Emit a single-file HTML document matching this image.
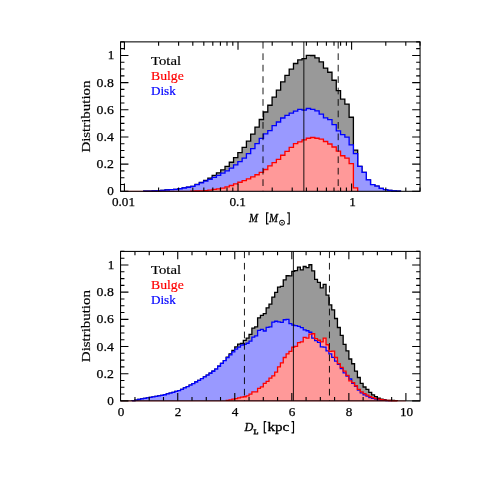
<!DOCTYPE html>
<html><head><meta charset="utf-8"><title>Distributions</title>
<style>html,body{margin:0;padding:0;background:#fff;}svg{display:block;will-change:transform;}text{font-family:"Liberation Serif",serif;}</style>
</head><body>
<svg width="491" height="491" viewBox="0 0 491 491">
<rect width="491" height="491" fill="#ffffff"/>
<path d="M143.68,191.30 L143.68,191.19 L147.96,191.19 L147.96,191.07 L152.24,191.07 L152.24,190.88 L156.52,190.88 L156.52,190.68 L160.80,190.68 L160.80,190.38 L165.08,190.38 L165.08,190.02 L169.36,190.02 L169.36,189.67 L173.64,189.67 L173.64,189.31 L177.92,189.31 L177.92,188.77 L182.20,188.77 L182.20,188.02 L186.48,188.02 L186.48,187.27 L190.76,187.27 L190.76,186.31 L195.04,186.31 L195.04,184.41 L199.32,184.41 L199.32,182.42 L203.60,182.42 L203.60,180.42 L207.88,180.42 L207.88,178.09 L212.16,178.09 L212.16,175.47 L216.44,175.47 L216.44,172.80 L220.72,172.80 L220.72,169.83 L225.00,169.83 L225.00,166.39 L229.28,166.39 L229.28,162.23 L233.56,162.23 L233.56,157.53 L237.84,157.53 L237.84,152.57 L242.12,152.57 L242.12,147.29 L246.40,147.29 L246.40,141.19 L250.68,141.19 L250.68,134.06 L254.96,134.06 L254.96,127.08 L259.24,127.08 L259.24,119.52 L263.52,119.52 L263.52,112.02 L267.80,112.02 L267.80,105.27 L272.08,105.27 L272.08,97.12 L276.36,97.12 L276.36,90.08 L280.64,90.08 L280.64,81.96 L284.92,81.96 L284.92,75.42 L289.20,75.42 L289.20,69.21 L293.48,69.21 L293.48,63.49 L297.76,63.49 L297.76,59.97 L302.04,59.97 L302.04,58.68 L306.32,58.68 L306.32,55.45 L310.60,55.45 L310.60,55.52 L314.88,55.52 L314.88,57.90 L319.16,57.90 L319.16,61.89 L323.44,61.89 L323.44,68.03 L327.72,68.03 L327.72,72.23 L332.00,72.23 L332.00,80.25 L336.28,80.25 L336.28,90.67 L340.56,90.67 L340.56,99.14 L344.84,99.14 L344.84,104.06 L349.12,104.06 L349.12,117.27 L353.40,117.27 L353.40,150.08 L357.68,150.08 L357.68,166.31 L361.96,166.31 L361.96,172.42 L366.24,172.42 L366.24,179.81 L370.52,179.81 L370.52,184.60 L374.80,184.60 L374.80,186.15 L379.08,186.15 L379.08,188.43 L383.36,188.43 L383.36,189.65 L387.64,189.65 L387.64,190.42 L391.92,190.42 L391.92,190.87 L396.20,190.87 L396.20,191.13 L400.48,191.13 L400.48,191.30 Z" fill="#999999" stroke="none"/>
<path d="M143.68,191.30 L143.68,191.19 L147.96,191.19 L147.96,191.07 L152.24,191.07 L152.24,190.88 L156.52,190.88 L156.52,190.68 L160.80,190.68 L160.80,190.38 L165.08,190.38 L165.08,190.02 L169.36,190.02 L169.36,189.67 L173.64,189.67 L173.64,189.31 L177.92,189.31 L177.92,188.77 L182.20,188.77 L182.20,188.02 L186.48,188.02 L186.48,187.27 L190.76,187.27 L190.76,186.31 L195.04,186.31 L195.04,184.41 L199.32,184.41 L199.32,182.42 L203.60,182.42 L203.60,180.42 L207.88,180.42 L207.88,178.09 L212.16,178.09 L212.16,175.47 L216.44,175.47 L216.44,172.80 L220.72,172.80 L220.72,169.83 L225.00,169.83 L225.00,166.39 L229.28,166.39 L229.28,162.23 L233.56,162.23 L233.56,157.53 L237.84,157.53 L237.84,152.57 L242.12,152.57 L242.12,147.29 L246.40,147.29 L246.40,141.19 L250.68,141.19 L250.68,134.06 L254.96,134.06 L254.96,127.08 L259.24,127.08 L259.24,119.52 L263.52,119.52 L263.52,112.02 L267.80,112.02 L267.80,105.27 L272.08,105.27 L272.08,97.12 L276.36,97.12 L276.36,90.08 L280.64,90.08 L280.64,81.96 L284.92,81.96 L284.92,75.42 L289.20,75.42 L289.20,69.21 L293.48,69.21 L293.48,63.49 L297.76,63.49 L297.76,59.97 L302.04,59.97 L302.04,58.68 L306.32,58.68 L306.32,55.45 L310.60,55.45 L310.60,55.52 L314.88,55.52 L314.88,57.90 L319.16,57.90 L319.16,61.89 L323.44,61.89 L323.44,68.03 L327.72,68.03 L327.72,72.23 L332.00,72.23 L332.00,80.25 L336.28,80.25 L336.28,90.67 L340.56,90.67 L340.56,99.14 L344.84,99.14 L344.84,104.06 L349.12,104.06 L349.12,117.27 L353.40,117.27 L353.40,150.08 L357.68,150.08 L357.68,166.31 L361.96,166.31 L361.96,172.42 L366.24,172.42 L366.24,179.81 L370.52,179.81 L370.52,184.60 L374.80,184.60 L374.80,186.15 L379.08,186.15 L379.08,188.43 L383.36,188.43 L383.36,189.65 L387.64,189.65 L387.64,190.42 L391.92,190.42 L391.92,190.87 L396.20,190.87 L396.20,191.13 L400.48,191.13 L400.48,191.30" fill="none" stroke="#000" stroke-width="1.3"/>
<path d="M143.68,191.30 L143.68,191.19 L147.96,191.19 L147.96,191.07 L152.24,191.07 L152.24,190.88 L156.52,190.88 L156.52,190.68 L160.80,190.68 L160.80,190.38 L165.08,190.38 L165.08,190.02 L169.36,190.02 L169.36,189.67 L173.64,189.67 L173.64,189.31 L177.92,189.31 L177.92,188.77 L182.20,188.77 L182.20,188.02 L186.48,188.02 L186.48,187.27 L190.76,187.27 L190.76,186.43 L195.04,186.43 L195.04,184.71 L199.32,184.71 L199.32,182.90 L203.60,182.90 L203.60,181.08 L207.88,181.08 L207.88,179.32 L212.16,179.32 L212.16,177.35 L216.44,177.35 L216.44,175.32 L220.72,175.32 L220.72,173.03 L225.00,173.03 L225.00,170.89 L229.28,170.89 L229.28,168.03 L233.56,168.03 L233.56,164.93 L237.84,164.93 L237.84,161.61 L242.12,161.61 L242.12,158.06 L246.40,158.06 L246.40,153.71 L250.68,153.71 L250.68,148.56 L254.96,148.56 L254.96,143.65 L259.24,143.65 L259.24,138.36 L263.52,138.36 L263.52,133.83 L267.80,133.83 L267.80,130.69 L272.08,130.69 L272.08,125.71 L276.36,125.71 L276.36,122.00 L280.64,122.00 L280.64,118.01 L284.92,118.01 L284.92,115.43 L289.20,115.43 L289.20,113.18 L293.48,113.18 L293.48,111.11 L297.76,111.11 L297.76,109.31 L302.04,109.31 L302.04,110.09 L306.32,110.09 L306.32,108.51 L310.60,108.51 L310.60,109.32 L314.88,109.32 L314.88,110.95 L319.16,110.95 L319.16,114.13 L323.44,114.13 L323.44,117.80 L327.72,117.80 L327.72,119.55 L332.00,119.55 L332.00,124.56 L336.28,124.56 L336.28,130.86 L340.56,130.86 L340.56,134.67 L344.84,134.67 L344.84,137.22 L349.12,137.22 L349.12,144.91 L353.40,144.91 L353.40,153.55 L357.68,153.55 L357.68,166.31 L361.96,166.31 L361.96,172.42 L366.24,172.42 L366.24,179.81 L370.52,179.81 L370.52,184.60 L374.80,184.60 L374.80,186.15 L379.08,186.15 L379.08,188.43 L383.36,188.43 L383.36,189.65 L387.64,189.65 L387.64,190.42 L391.92,190.42 L391.92,190.87 L396.20,190.87 L396.20,191.13 L400.48,191.13 L400.48,191.30 Z" fill="#9999ff" stroke="none"/>
<path d="M190.76,191.30 L190.76,191.18 L195.04,191.18 L195.04,191.00 L199.32,191.00 L199.32,190.82 L203.60,190.82 L203.60,190.64 L207.88,190.64 L207.88,190.06 L212.16,190.06 L212.16,189.42 L216.44,189.42 L216.44,188.78 L220.72,188.78 L220.72,188.10 L225.00,188.10 L225.00,186.80 L229.28,186.80 L229.28,185.50 L233.56,185.50 L233.56,183.90 L237.84,183.90 L237.84,182.26 L242.12,182.26 L242.12,180.53 L246.40,180.53 L246.40,178.79 L250.68,178.79 L250.68,176.80 L254.96,176.80 L254.96,174.73 L259.24,174.73 L259.24,172.46 L263.52,172.46 L263.52,169.49 L267.80,169.49 L267.80,165.88 L272.08,165.88 L272.08,162.71 L276.36,162.71 L276.36,159.38 L280.64,159.38 L280.64,155.26 L284.92,155.26 L284.92,151.29 L289.20,151.29 L289.20,147.33 L293.48,147.33 L293.48,143.69 L297.76,143.69 L297.76,141.96 L302.04,141.96 L302.04,139.89 L306.32,139.89 L306.32,138.24 L310.60,138.24 L310.60,137.51 L314.88,137.51 L314.88,138.25 L319.16,138.25 L319.16,139.06 L323.44,139.06 L323.44,141.52 L327.72,141.52 L327.72,143.99 L332.00,143.99 L332.00,146.99 L336.28,146.99 L336.28,151.11 L340.56,151.11 L340.56,155.76 L344.84,155.76 L344.84,158.14 L349.12,158.14 L349.12,163.65 L353.40,163.65 L353.40,187.84 L357.68,187.84 L357.68,191.30 Z" fill="#ff9999" stroke="none"/>
<path d="M143.68,191.30 L143.68,191.19 L147.96,191.19 L147.96,191.07 L152.24,191.07 L152.24,190.88 L156.52,190.88 L156.52,190.68 L160.80,190.68 L160.80,190.38 L165.08,190.38 L165.08,190.02 L169.36,190.02 L169.36,189.67 L173.64,189.67 L173.64,189.31 L177.92,189.31 L177.92,188.77 L182.20,188.77 L182.20,188.02 L186.48,188.02 L186.48,187.27 L190.76,187.27 L190.76,186.43 L195.04,186.43 L195.04,184.71 L199.32,184.71 L199.32,182.90 L203.60,182.90 L203.60,181.08 L207.88,181.08 L207.88,179.32 L212.16,179.32 L212.16,177.35 L216.44,177.35 L216.44,175.32 L220.72,175.32 L220.72,173.03 L225.00,173.03 L225.00,170.89 L229.28,170.89 L229.28,168.03 L233.56,168.03 L233.56,164.93 L237.84,164.93 L237.84,161.61 L242.12,161.61 L242.12,158.06 L246.40,158.06 L246.40,153.71 L250.68,153.71 L250.68,148.56 L254.96,148.56 L254.96,143.65 L259.24,143.65 L259.24,138.36 L263.52,138.36 L263.52,133.83 L267.80,133.83 L267.80,130.69 L272.08,130.69 L272.08,125.71 L276.36,125.71 L276.36,122.00 L280.64,122.00 L280.64,118.01 L284.92,118.01 L284.92,115.43 L289.20,115.43 L289.20,113.18 L293.48,113.18 L293.48,111.11 L297.76,111.11 L297.76,109.31 L302.04,109.31 L302.04,110.09 L306.32,110.09 L306.32,108.51 L310.60,108.51 L310.60,109.32 L314.88,109.32 L314.88,110.95 L319.16,110.95 L319.16,114.13 L323.44,114.13 L323.44,117.80 L327.72,117.80 L327.72,119.55 L332.00,119.55 L332.00,124.56 L336.28,124.56 L336.28,130.86 L340.56,130.86 L340.56,134.67 L344.84,134.67 L344.84,137.22 L349.12,137.22 L349.12,144.91 L353.40,144.91 L353.40,153.55 L357.68,153.55 L357.68,166.31 L361.96,166.31 L361.96,172.42 L366.24,172.42 L366.24,179.81 L370.52,179.81 L370.52,184.60 L374.80,184.60 L374.80,186.15 L379.08,186.15 L379.08,188.43 L383.36,188.43 L383.36,189.65 L387.64,189.65 L387.64,190.42 L391.92,190.42 L391.92,190.87 L396.20,190.87 L396.20,191.13 L400.48,191.13 L400.48,191.30" fill="none" stroke="#0000ff" stroke-width="1.3"/>
<path d="M190.76,191.30 L190.76,191.18 L195.04,191.18 L195.04,191.00 L199.32,191.00 L199.32,190.82 L203.60,190.82 L203.60,190.64 L207.88,190.64 L207.88,190.06 L212.16,190.06 L212.16,189.42 L216.44,189.42 L216.44,188.78 L220.72,188.78 L220.72,188.10 L225.00,188.10 L225.00,186.80 L229.28,186.80 L229.28,185.50 L233.56,185.50 L233.56,183.90 L237.84,183.90 L237.84,182.26 L242.12,182.26 L242.12,180.53 L246.40,180.53 L246.40,178.79 L250.68,178.79 L250.68,176.80 L254.96,176.80 L254.96,174.73 L259.24,174.73 L259.24,172.46 L263.52,172.46 L263.52,169.49 L267.80,169.49 L267.80,165.88 L272.08,165.88 L272.08,162.71 L276.36,162.71 L276.36,159.38 L280.64,159.38 L280.64,155.26 L284.92,155.26 L284.92,151.29 L289.20,151.29 L289.20,147.33 L293.48,147.33 L293.48,143.69 L297.76,143.69 L297.76,141.96 L302.04,141.96 L302.04,139.89 L306.32,139.89 L306.32,138.24 L310.60,138.24 L310.60,137.51 L314.88,137.51 L314.88,138.25 L319.16,138.25 L319.16,139.06 L323.44,139.06 L323.44,141.52 L327.72,141.52 L327.72,143.99 L332.00,143.99 L332.00,146.99 L336.28,146.99 L336.28,151.11 L340.56,151.11 L340.56,155.76 L344.84,155.76 L344.84,158.14 L349.12,158.14 L349.12,163.65 L353.40,163.65 L353.40,187.84 L357.68,187.84 L357.68,191.30" fill="none" stroke="#ff0000" stroke-width="1.3"/>
<path d="M263.00,41.87 V191.30" stroke="#000" stroke-width="0.9" stroke-dasharray="6.7 4.75" fill="none"/>
<path d="M303.85,41.87 V191.30" stroke="#000" stroke-width="0.9" fill="none"/>
<path d="M338.20,41.87 V191.30" stroke="#000" stroke-width="0.9" stroke-dasharray="6.7 4.75" fill="none"/>
<path d="M124.40,191.30 H200.00" stroke="#ff0000" stroke-opacity="0.45" stroke-width="1.2" fill="none"/>
<path d="M120.55,191.30 h7.90 M420.05,191.30 h-7.90 M120.55,184.51 h3.90 M420.05,184.51 h-3.90 M120.55,177.72 h3.90 M420.05,177.72 h-3.90 M120.55,170.92 h3.90 M420.05,170.92 h-3.90 M120.55,164.13 h7.90 M420.05,164.13 h-7.90 M120.55,157.34 h3.90 M420.05,157.34 h-3.90 M120.55,150.55 h3.90 M420.05,150.55 h-3.90 M120.55,143.75 h3.90 M420.05,143.75 h-3.90 M120.55,136.96 h7.90 M420.05,136.96 h-7.90 M120.55,130.17 h3.90 M420.05,130.17 h-3.90 M120.55,123.38 h3.90 M420.05,123.38 h-3.90 M120.55,116.58 h3.90 M420.05,116.58 h-3.90 M120.55,109.79 h7.90 M420.05,109.79 h-7.90 M120.55,103.00 h3.90 M420.05,103.00 h-3.90 M120.55,96.21 h3.90 M420.05,96.21 h-3.90 M120.55,89.41 h3.90 M420.05,89.41 h-3.90 M120.55,82.62 h7.90 M420.05,82.62 h-7.90 M120.55,75.83 h3.90 M420.05,75.83 h-3.90 M120.55,69.04 h3.90 M420.05,69.04 h-3.90 M120.55,62.24 h3.90 M420.05,62.24 h-3.90 M120.55,55.45 h7.90 M420.05,55.45 h-7.90 M120.55,48.66 h3.90 M420.05,48.66 h-3.90 M120.55,41.87 h3.90 M420.05,41.87 h-3.90 M124.42,191.30 v-7.90 M124.42,41.87 v7.90 M238.01,191.30 v-7.90 M238.01,41.87 v7.90 M351.60,191.30 v-7.90 M351.60,41.87 v7.90 M158.61,191.30 v-3.90 M158.61,41.87 v3.90 M178.62,191.30 v-3.90 M178.62,41.87 v3.90 M192.81,191.30 v-3.90 M192.81,41.87 v3.90 M203.82,191.30 v-3.90 M203.82,41.87 v3.90 M212.81,191.30 v-3.90 M212.81,41.87 v3.90 M220.41,191.30 v-3.90 M220.41,41.87 v3.90 M227.00,191.30 v-3.90 M227.00,41.87 v3.90 M232.81,191.30 v-3.90 M232.81,41.87 v3.90 M272.20,191.30 v-3.90 M272.20,41.87 v3.90 M292.21,191.30 v-3.90 M292.21,41.87 v3.90 M306.40,191.30 v-3.90 M306.40,41.87 v3.90 M317.41,191.30 v-3.90 M317.41,41.87 v3.90 M326.40,191.30 v-3.90 M326.40,41.87 v3.90 M334.00,191.30 v-3.90 M334.00,41.87 v3.90 M340.59,191.30 v-3.90 M340.59,41.87 v3.90 M346.40,191.30 v-3.90 M346.40,41.87 v3.90 M385.79,191.30 v-3.90 M385.79,41.87 v3.90 M405.80,191.30 v-3.90 M405.80,41.87 v3.90 M419.99,191.30 v-3.90 M419.99,41.87 v3.90" fill="none" stroke="#000" stroke-width="1.1"/>
<rect x="120.55" y="41.87" width="299.50" height="149.44" fill="none" stroke="#000" stroke-width="1.05"/>
<path d="M132.11,400.85 L132.11,400.63 L134.96,400.63 L134.96,400.08 L137.81,400.08 L137.81,399.52 L140.66,399.52 L140.66,398.97 L143.52,398.97 L143.52,398.42 L146.37,398.42 L146.37,397.86 L149.22,397.86 L149.22,397.34 L152.07,397.34 L152.07,396.85 L154.92,396.85 L154.92,396.37 L157.78,396.37 L157.78,395.88 L160.63,395.88 L160.63,395.39 L163.48,395.39 L163.48,394.74 L166.33,394.74 L166.33,393.92 L169.18,393.92 L169.18,393.10 L172.04,393.10 L172.04,392.29 L174.89,392.29 L174.89,391.47 L177.74,391.47 L177.74,390.64 L180.59,390.64 L180.59,389.39 L183.44,389.39 L183.44,387.97 L186.30,387.97 L186.30,386.54 L189.15,386.54 L189.15,385.09 L192.00,385.09 L192.00,383.63 L194.85,383.63 L194.85,382.02 L197.70,382.02 L197.70,380.32 L200.56,380.32 L200.56,378.62 L203.41,378.62 L203.41,376.88 L206.26,376.88 L206.26,375.13 L209.11,375.13 L209.11,373.23 L211.96,373.23 L211.96,371.26 L214.82,371.26 L214.82,369.10 L217.67,369.10 L217.67,366.25 L220.52,366.25 L220.52,363.39 L223.37,363.39 L223.37,360.55 L226.22,360.55 L226.22,357.21 L229.08,357.21 L229.08,353.81 L231.93,353.81 L231.93,350.35 L234.78,350.35 L234.78,346.88 L237.63,346.88 L237.63,344.20 L240.48,344.20 L240.48,343.52 L243.34,343.52 L243.34,340.40 L246.19,340.40 L246.19,338.22 L249.04,338.22 L249.04,334.28 L251.89,334.28 L251.89,328.17 L254.74,328.17 L254.74,326.95 L257.60,326.95 L257.60,317.85 L260.45,317.85 L260.45,315.40 L263.30,315.40 L263.30,313.63 L266.15,313.63 L266.15,307.79 L269.00,307.79 L269.00,304.12 L271.86,304.12 L271.86,297.06 L274.71,297.06 L274.71,292.44 L277.56,292.44 L277.56,287.14 L280.41,287.14 L280.41,286.33 L283.26,286.33 L283.26,279.94 L286.12,279.94 L286.12,275.73 L288.97,275.73 L288.97,275.87 L291.82,275.87 L291.82,271.38 L294.67,271.38 L294.67,270.57 L297.52,270.57 L297.52,267.17 L300.38,267.17 L300.38,269.89 L303.23,269.89 L303.23,266.49 L306.08,266.49 L306.08,267.72 L308.93,267.72 L308.93,264.73 L311.78,264.73 L311.78,270.84 L314.64,270.84 L314.64,279.40 L317.49,279.40 L317.49,282.39 L320.34,282.39 L320.34,287.82 L323.19,287.82 L323.19,284.29 L326.04,284.29 L326.04,295.16 L328.90,295.16 L328.90,304.94 L331.75,304.94 L331.75,309.83 L334.60,309.83 L334.60,318.52 L337.45,318.52 L337.45,327.49 L340.30,327.49 L340.30,335.37 L343.16,335.37 L343.16,344.47 L346.01,344.47 L346.01,350.86 L348.86,350.86 L348.86,359.01 L351.71,359.01 L351.71,363.76 L354.56,363.76 L354.56,371.10 L357.42,371.10 L357.42,377.48 L360.27,377.48 L360.27,383.33 L363.12,383.33 L363.12,386.99 L365.97,386.99 L365.97,389.44 L368.82,389.44 L368.82,392.43 L371.68,392.43 L371.68,394.87 L374.53,394.87 L374.53,396.64 L377.38,396.64 L377.38,398.27 L380.23,398.27 L380.23,399.08 L383.08,399.08 L383.08,399.76 L385.94,399.76 L385.94,400.31 L388.79,400.31 L388.79,400.29 L391.64,400.29 L391.64,400.50 L394.49,400.50 L394.49,400.68 L397.34,400.68 L397.34,400.85 Z" fill="#999999" stroke="none"/>
<path d="M132.11,400.85 L132.11,400.63 L134.96,400.63 L134.96,400.08 L137.81,400.08 L137.81,399.52 L140.66,399.52 L140.66,398.97 L143.52,398.97 L143.52,398.42 L146.37,398.42 L146.37,397.86 L149.22,397.86 L149.22,397.34 L152.07,397.34 L152.07,396.85 L154.92,396.85 L154.92,396.37 L157.78,396.37 L157.78,395.88 L160.63,395.88 L160.63,395.39 L163.48,395.39 L163.48,394.74 L166.33,394.74 L166.33,393.92 L169.18,393.92 L169.18,393.10 L172.04,393.10 L172.04,392.29 L174.89,392.29 L174.89,391.47 L177.74,391.47 L177.74,390.64 L180.59,390.64 L180.59,389.39 L183.44,389.39 L183.44,387.97 L186.30,387.97 L186.30,386.54 L189.15,386.54 L189.15,385.09 L192.00,385.09 L192.00,383.63 L194.85,383.63 L194.85,382.02 L197.70,382.02 L197.70,380.32 L200.56,380.32 L200.56,378.62 L203.41,378.62 L203.41,376.88 L206.26,376.88 L206.26,375.13 L209.11,375.13 L209.11,373.23 L211.96,373.23 L211.96,371.26 L214.82,371.26 L214.82,369.10 L217.67,369.10 L217.67,366.25 L220.52,366.25 L220.52,363.39 L223.37,363.39 L223.37,360.55 L226.22,360.55 L226.22,357.21 L229.08,357.21 L229.08,353.81 L231.93,353.81 L231.93,350.35 L234.78,350.35 L234.78,346.88 L237.63,346.88 L237.63,344.20 L240.48,344.20 L240.48,343.52 L243.34,343.52 L243.34,340.40 L246.19,340.40 L246.19,338.22 L249.04,338.22 L249.04,334.28 L251.89,334.28 L251.89,328.17 L254.74,328.17 L254.74,326.95 L257.60,326.95 L257.60,317.85 L260.45,317.85 L260.45,315.40 L263.30,315.40 L263.30,313.63 L266.15,313.63 L266.15,307.79 L269.00,307.79 L269.00,304.12 L271.86,304.12 L271.86,297.06 L274.71,297.06 L274.71,292.44 L277.56,292.44 L277.56,287.14 L280.41,287.14 L280.41,286.33 L283.26,286.33 L283.26,279.94 L286.12,279.94 L286.12,275.73 L288.97,275.73 L288.97,275.87 L291.82,275.87 L291.82,271.38 L294.67,271.38 L294.67,270.57 L297.52,270.57 L297.52,267.17 L300.38,267.17 L300.38,269.89 L303.23,269.89 L303.23,266.49 L306.08,266.49 L306.08,267.72 L308.93,267.72 L308.93,264.73 L311.78,264.73 L311.78,270.84 L314.64,270.84 L314.64,279.40 L317.49,279.40 L317.49,282.39 L320.34,282.39 L320.34,287.82 L323.19,287.82 L323.19,284.29 L326.04,284.29 L326.04,295.16 L328.90,295.16 L328.90,304.94 L331.75,304.94 L331.75,309.83 L334.60,309.83 L334.60,318.52 L337.45,318.52 L337.45,327.49 L340.30,327.49 L340.30,335.37 L343.16,335.37 L343.16,344.47 L346.01,344.47 L346.01,350.86 L348.86,350.86 L348.86,359.01 L351.71,359.01 L351.71,363.76 L354.56,363.76 L354.56,371.10 L357.42,371.10 L357.42,377.48 L360.27,377.48 L360.27,383.33 L363.12,383.33 L363.12,386.99 L365.97,386.99 L365.97,389.44 L368.82,389.44 L368.82,392.43 L371.68,392.43 L371.68,394.87 L374.53,394.87 L374.53,396.64 L377.38,396.64 L377.38,398.27 L380.23,398.27 L380.23,399.08 L383.08,399.08 L383.08,399.76 L385.94,399.76 L385.94,400.31 L388.79,400.31 L388.79,400.29 L391.64,400.29 L391.64,400.50 L394.49,400.50 L394.49,400.68 L397.34,400.68 L397.34,400.85" fill="none" stroke="#000" stroke-width="1.3"/>
<path d="M132.11,400.85 L132.11,400.63 L134.96,400.63 L134.96,400.08 L137.81,400.08 L137.81,399.52 L140.66,399.52 L140.66,398.97 L143.52,398.97 L143.52,398.42 L146.37,398.42 L146.37,397.86 L149.22,397.86 L149.22,397.34 L152.07,397.34 L152.07,396.85 L154.92,396.85 L154.92,396.37 L157.78,396.37 L157.78,395.88 L160.63,395.88 L160.63,395.39 L163.48,395.39 L163.48,394.74 L166.33,394.74 L166.33,393.92 L169.18,393.92 L169.18,393.10 L172.04,393.10 L172.04,392.29 L174.89,392.29 L174.89,391.47 L177.74,391.47 L177.74,390.64 L180.59,390.64 L180.59,389.39 L183.44,389.39 L183.44,387.97 L186.30,387.97 L186.30,386.54 L189.15,386.54 L189.15,385.09 L192.00,385.09 L192.00,383.63 L194.85,383.63 L194.85,382.02 L197.70,382.02 L197.70,380.32 L200.56,380.32 L200.56,378.62 L203.41,378.62 L203.41,376.88 L206.26,376.88 L206.26,375.13 L209.11,375.13 L209.11,373.23 L211.96,373.23 L211.96,371.26 L214.82,371.26 L214.82,369.10 L217.67,369.10 L217.67,366.25 L220.52,366.25 L220.52,363.39 L223.37,363.39 L223.37,360.55 L226.22,360.55 L226.22,357.71 L229.08,357.71 L229.08,354.87 L231.93,354.87 L231.93,351.97 L234.78,351.97 L234.78,349.08 L237.63,349.08 L237.63,347.08 L240.48,347.08 L240.48,345.03 L243.34,345.03 L243.34,344.47 L246.19,344.47 L246.19,343.25 L249.04,343.25 L249.04,341.08 L251.89,341.08 L251.89,337.14 L254.74,337.14 L254.74,335.91 L257.60,335.91 L257.60,330.34 L260.45,330.34 L260.45,329.39 L263.30,329.39 L263.30,331.02 L266.15,331.02 L266.15,327.36 L269.00,327.36 L269.00,326.95 L271.86,326.95 L271.86,322.06 L274.71,322.06 L274.71,321.24 L277.56,321.24 L277.56,321.79 L280.41,321.79 L280.41,322.46 L283.26,322.46 L283.26,319.75 L286.12,319.75 L286.12,319.34 L288.97,319.34 L288.97,323.69 L291.82,323.69 L291.82,325.18 L294.67,325.18 L294.67,325.59 L297.52,325.59 L297.52,326.40 L300.38,326.40 L300.38,327.63 L303.23,327.63 L303.23,329.80 L306.08,329.80 L306.08,330.75 L308.93,330.75 L308.93,332.25 L311.78,332.25 L311.78,338.09 L314.64,338.09 L314.64,340.53 L317.49,340.53 L317.49,342.30 L320.34,342.30 L320.34,346.78 L323.19,346.78 L323.19,347.19 L326.04,347.19 L326.04,350.86 L328.90,350.86 L328.90,353.85 L331.75,353.85 L331.75,357.38 L334.60,357.38 L334.60,361.05 L337.45,361.05 L337.45,364.44 L340.30,364.44 L340.30,368.65 L343.16,368.65 L343.16,372.86 L346.01,372.86 L346.01,375.99 L348.86,375.99 L348.86,378.98 L351.71,378.98 L351.71,383.33 L354.56,383.33 L354.56,386.31 L357.42,386.31 L357.42,389.98 L360.27,389.98 L360.27,392.97 L363.12,392.97 L363.12,394.87 L365.97,394.87 L365.97,396.10 L368.82,396.10 L368.82,397.59 L371.68,397.59 L371.68,398.27 L374.53,398.27 L374.53,399.08 L377.38,399.08 L377.38,399.76 L380.23,399.76 L380.23,400.17 L383.08,400.17 L383.08,400.44 L385.94,400.44 L385.94,400.71 L388.79,400.71 L388.79,400.65 L391.64,400.65 L391.64,400.85 Z" fill="#9999ff" stroke="none"/>
<path d="M226.22,400.85 L226.22,400.35 L229.08,400.35 L229.08,399.80 L231.93,399.80 L231.93,399.22 L234.78,399.22 L234.78,398.65 L237.63,398.65 L237.63,397.97 L240.48,397.97 L240.48,397.10 L243.34,397.10 L243.34,396.77 L246.19,396.77 L246.19,395.82 L249.04,395.82 L249.04,394.06 L251.89,394.06 L251.89,391.88 L254.74,391.88 L254.74,391.88 L257.60,391.88 L257.60,388.35 L260.45,388.35 L260.45,386.86 L263.30,386.86 L263.30,383.46 L266.15,383.46 L266.15,381.29 L269.00,381.29 L269.00,378.03 L271.86,378.03 L271.86,375.85 L274.71,375.85 L274.71,372.05 L277.56,372.05 L277.56,366.89 L280.41,366.89 L280.41,362.81 L283.26,362.81 L283.26,357.51 L286.12,357.51 L286.12,353.85 L288.97,353.85 L288.97,351.40 L291.82,351.40 L291.82,347.19 L294.67,347.19 L294.67,346.37 L297.52,346.37 L297.52,342.71 L300.38,342.71 L300.38,341.89 L303.23,341.89 L303.23,337.41 L306.08,337.41 L306.08,338.09 L308.93,338.09 L308.93,334.15 L311.78,334.15 L311.78,333.74 L314.64,333.74 L314.64,338.63 L317.49,338.63 L317.49,340.26 L320.34,340.26 L320.34,341.89 L323.19,341.89 L323.19,338.09 L326.04,338.09 L326.04,344.74 L328.90,344.74 L328.90,351.40 L331.75,351.40 L331.75,351.13 L334.60,351.13 L334.60,357.51 L337.45,357.51 L337.45,363.63 L340.30,363.63 L340.30,367.43 L343.16,367.43 L343.16,371.10 L346.01,371.10 L346.01,375.31 L348.86,375.31 L348.86,380.88 L351.71,380.88 L351.71,382.65 L354.56,382.65 L354.56,385.77 L357.42,385.77 L357.42,389.44 L360.27,389.44 L360.27,391.88 L363.12,391.88 L363.12,393.65 L365.97,393.65 L365.97,395.14 L368.82,395.14 L368.82,396.64 L371.68,396.64 L371.68,397.59 L374.53,397.59 L374.53,398.54 L377.38,398.54 L377.38,399.08 L380.23,399.08 L380.23,399.76 L383.08,399.76 L383.08,400.17 L385.94,400.17 L385.94,400.44 L388.79,400.44 L388.79,400.48 L391.64,400.48 L391.64,400.58 L394.49,400.58 L394.49,400.68 L397.34,400.68 L397.34,400.85 Z" fill="#ff9999" stroke="none"/>
<path d="M132.11,400.85 L132.11,400.63 L134.96,400.63 L134.96,400.08 L137.81,400.08 L137.81,399.52 L140.66,399.52 L140.66,398.97 L143.52,398.97 L143.52,398.42 L146.37,398.42 L146.37,397.86 L149.22,397.86 L149.22,397.34 L152.07,397.34 L152.07,396.85 L154.92,396.85 L154.92,396.37 L157.78,396.37 L157.78,395.88 L160.63,395.88 L160.63,395.39 L163.48,395.39 L163.48,394.74 L166.33,394.74 L166.33,393.92 L169.18,393.92 L169.18,393.10 L172.04,393.10 L172.04,392.29 L174.89,392.29 L174.89,391.47 L177.74,391.47 L177.74,390.64 L180.59,390.64 L180.59,389.39 L183.44,389.39 L183.44,387.97 L186.30,387.97 L186.30,386.54 L189.15,386.54 L189.15,385.09 L192.00,385.09 L192.00,383.63 L194.85,383.63 L194.85,382.02 L197.70,382.02 L197.70,380.32 L200.56,380.32 L200.56,378.62 L203.41,378.62 L203.41,376.88 L206.26,376.88 L206.26,375.13 L209.11,375.13 L209.11,373.23 L211.96,373.23 L211.96,371.26 L214.82,371.26 L214.82,369.10 L217.67,369.10 L217.67,366.25 L220.52,366.25 L220.52,363.39 L223.37,363.39 L223.37,360.55 L226.22,360.55 L226.22,357.71 L229.08,357.71 L229.08,354.87 L231.93,354.87 L231.93,351.97 L234.78,351.97 L234.78,349.08 L237.63,349.08 L237.63,347.08 L240.48,347.08 L240.48,345.03 L243.34,345.03 L243.34,344.47 L246.19,344.47 L246.19,343.25 L249.04,343.25 L249.04,341.08 L251.89,341.08 L251.89,337.14 L254.74,337.14 L254.74,335.91 L257.60,335.91 L257.60,330.34 L260.45,330.34 L260.45,329.39 L263.30,329.39 L263.30,331.02 L266.15,331.02 L266.15,327.36 L269.00,327.36 L269.00,326.95 L271.86,326.95 L271.86,322.06 L274.71,322.06 L274.71,321.24 L277.56,321.24 L277.56,321.79 L280.41,321.79 L280.41,322.46 L283.26,322.46 L283.26,319.75 L286.12,319.75 L286.12,319.34 L288.97,319.34 L288.97,323.69 L291.82,323.69 L291.82,325.18 L294.67,325.18 L294.67,325.59 L297.52,325.59 L297.52,326.40 L300.38,326.40 L300.38,327.63 L303.23,327.63 L303.23,329.80 L306.08,329.80 L306.08,330.75 L308.93,330.75 L308.93,332.25 L311.78,332.25 L311.78,338.09 L314.64,338.09 L314.64,340.53 L317.49,340.53 L317.49,342.30 L320.34,342.30 L320.34,346.78 L323.19,346.78 L323.19,347.19 L326.04,347.19 L326.04,350.86 L328.90,350.86 L328.90,353.85 L331.75,353.85 L331.75,357.38 L334.60,357.38 L334.60,361.05 L337.45,361.05 L337.45,364.44 L340.30,364.44 L340.30,368.65 L343.16,368.65 L343.16,372.86 L346.01,372.86 L346.01,375.99 L348.86,375.99 L348.86,378.98 L351.71,378.98 L351.71,383.33 L354.56,383.33 L354.56,386.31 L357.42,386.31 L357.42,389.98 L360.27,389.98 L360.27,392.97 L363.12,392.97 L363.12,394.87 L365.97,394.87 L365.97,396.10 L368.82,396.10 L368.82,397.59 L371.68,397.59 L371.68,398.27 L374.53,398.27 L374.53,399.08 L377.38,399.08 L377.38,399.76 L380.23,399.76 L380.23,400.17 L383.08,400.17 L383.08,400.44 L385.94,400.44 L385.94,400.71 L388.79,400.71 L388.79,400.65 L391.64,400.65 L391.64,400.85" fill="none" stroke="#0000ff" stroke-width="1.3"/>
<path d="M226.22,400.85 L226.22,400.35 L229.08,400.35 L229.08,399.80 L231.93,399.80 L231.93,399.22 L234.78,399.22 L234.78,398.65 L237.63,398.65 L237.63,397.97 L240.48,397.97 L240.48,397.10 L243.34,397.10 L243.34,396.77 L246.19,396.77 L246.19,395.82 L249.04,395.82 L249.04,394.06 L251.89,394.06 L251.89,391.88 L254.74,391.88 L254.74,391.88 L257.60,391.88 L257.60,388.35 L260.45,388.35 L260.45,386.86 L263.30,386.86 L263.30,383.46 L266.15,383.46 L266.15,381.29 L269.00,381.29 L269.00,378.03 L271.86,378.03 L271.86,375.85 L274.71,375.85 L274.71,372.05 L277.56,372.05 L277.56,366.89 L280.41,366.89 L280.41,362.81 L283.26,362.81 L283.26,357.51 L286.12,357.51 L286.12,353.85 L288.97,353.85 L288.97,351.40 L291.82,351.40 L291.82,347.19 L294.67,347.19 L294.67,346.37 L297.52,346.37 L297.52,342.71 L300.38,342.71 L300.38,341.89 L303.23,341.89 L303.23,337.41 L306.08,337.41 L306.08,338.09 L308.93,338.09 L308.93,334.15 L311.78,334.15 L311.78,333.74 L314.64,333.74 L314.64,338.63 L317.49,338.63 L317.49,340.26 L320.34,340.26 L320.34,341.89 L323.19,341.89 L323.19,338.09 L326.04,338.09 L326.04,344.74 L328.90,344.74 L328.90,351.40 L331.75,351.40 L331.75,351.13 L334.60,351.13 L334.60,357.51 L337.45,357.51 L337.45,363.63 L340.30,363.63 L340.30,367.43 L343.16,367.43 L343.16,371.10 L346.01,371.10 L346.01,375.31 L348.86,375.31 L348.86,380.88 L351.71,380.88 L351.71,382.65 L354.56,382.65 L354.56,385.77 L357.42,385.77 L357.42,389.44 L360.27,389.44 L360.27,391.88 L363.12,391.88 L363.12,393.65 L365.97,393.65 L365.97,395.14 L368.82,395.14 L368.82,396.64 L371.68,396.64 L371.68,397.59 L374.53,397.59 L374.53,398.54 L377.38,398.54 L377.38,399.08 L380.23,399.08 L380.23,399.76 L383.08,399.76 L383.08,400.17 L385.94,400.17 L385.94,400.44 L388.79,400.44 L388.79,400.48 L391.64,400.48 L391.64,400.58 L394.49,400.58 L394.49,400.68 L397.34,400.68 L397.34,400.85" fill="none" stroke="#ff0000" stroke-width="1.3"/>
<path d="M120.55,400.85 H405.80" stroke="#ff0000" stroke-opacity="0.45" stroke-width="1.2" fill="none"/>
<path d="M244.45,251.42 V400.85" stroke="#000" stroke-width="0.9" stroke-dasharray="6.7 4.75" fill="none"/>
<path d="M293.40,251.42 V400.85" stroke="#000" stroke-width="0.9" fill="none"/>
<path d="M329.45,251.42 V400.85" stroke="#000" stroke-width="0.9" stroke-dasharray="6.7 4.75" fill="none"/>
<path d="M120.55,400.85 h7.90 M420.05,400.85 h-7.90 M120.55,394.06 h3.90 M420.05,394.06 h-3.90 M120.55,387.27 h3.90 M420.05,387.27 h-3.90 M120.55,380.47 h3.90 M420.05,380.47 h-3.90 M120.55,373.68 h7.90 M420.05,373.68 h-7.90 M120.55,366.89 h3.90 M420.05,366.89 h-3.90 M120.55,360.10 h3.90 M420.05,360.10 h-3.90 M120.55,353.30 h3.90 M420.05,353.30 h-3.90 M120.55,346.51 h7.90 M420.05,346.51 h-7.90 M120.55,339.72 h3.90 M420.05,339.72 h-3.90 M120.55,332.93 h3.90 M420.05,332.93 h-3.90 M120.55,326.13 h3.90 M420.05,326.13 h-3.90 M120.55,319.34 h7.90 M420.05,319.34 h-7.90 M120.55,312.55 h3.90 M420.05,312.55 h-3.90 M120.55,305.75 h3.90 M420.05,305.75 h-3.90 M120.55,298.96 h3.90 M420.05,298.96 h-3.90 M120.55,292.17 h7.90 M420.05,292.17 h-7.90 M120.55,285.38 h3.90 M420.05,285.38 h-3.90 M120.55,278.59 h3.90 M420.05,278.59 h-3.90 M120.55,271.79 h3.90 M420.05,271.79 h-3.90 M120.55,265.00 h7.90 M420.05,265.00 h-7.90 M120.55,258.21 h3.90 M420.05,258.21 h-3.90 M120.55,251.42 h3.90 M420.05,251.42 h-3.90 M177.74,400.85 v-7.90 M177.74,251.42 v7.90 M234.78,400.85 v-7.90 M234.78,251.42 v7.90 M291.82,400.85 v-7.90 M291.82,251.42 v7.90 M348.86,400.85 v-7.90 M348.86,251.42 v7.90 M405.90,400.85 v-7.90 M405.90,251.42 v7.90 M134.96,400.85 v-3.90 M134.96,251.42 v3.90 M149.22,400.85 v-3.90 M149.22,251.42 v3.90 M163.48,400.85 v-3.90 M163.48,251.42 v3.90 M192.00,400.85 v-3.90 M192.00,251.42 v3.90 M206.26,400.85 v-3.90 M206.26,251.42 v3.90 M220.52,400.85 v-3.90 M220.52,251.42 v3.90 M249.04,400.85 v-3.90 M249.04,251.42 v3.90 M263.30,400.85 v-3.90 M263.30,251.42 v3.90 M277.56,400.85 v-3.90 M277.56,251.42 v3.90 M306.08,400.85 v-3.90 M306.08,251.42 v3.90 M320.34,400.85 v-3.90 M320.34,251.42 v3.90 M334.60,400.85 v-3.90 M334.60,251.42 v3.90 M363.12,400.85 v-3.90 M363.12,251.42 v3.90 M377.38,400.85 v-3.90 M377.38,251.42 v3.90 M391.64,400.85 v-3.90 M391.64,251.42 v3.90" fill="none" stroke="#000" stroke-width="1.1"/>
<rect x="120.55" y="251.42" width="299.50" height="149.44" fill="none" stroke="#000" stroke-width="1.05"/>
<text x="151.00" y="64.70" font-family="Liberation Serif, serif" font-size="12.60" text-anchor="start" fill="#000" textLength="30.00" lengthAdjust="spacingAndGlyphs" stroke="#000" stroke-width="0.18" >Total</text>
<text x="151.00" y="79.60" font-family="Liberation Serif, serif" font-size="12.60" text-anchor="start" fill="#ff0000" textLength="32.80" lengthAdjust="spacingAndGlyphs" stroke="#ff0000" stroke-width="0.18" >Bulge</text>
<text x="151.00" y="94.60" font-family="Liberation Serif, serif" font-size="12.60" text-anchor="start" fill="#0000ff" textLength="24.80" lengthAdjust="spacingAndGlyphs" stroke="#0000ff" stroke-width="0.18" >Disk</text>
<text x="113.80" y="195.40" font-family="Liberation Serif, serif" font-size="12.80" text-anchor="end" fill="#000" textLength="6.60" lengthAdjust="spacingAndGlyphs" stroke="#000" stroke-width="0.25" >0</text>
<text x="113.80" y="168.23" font-family="Liberation Serif, serif" font-size="12.80" text-anchor="end" fill="#000" textLength="17.20" lengthAdjust="spacingAndGlyphs" stroke="#000" stroke-width="0.25" >0.2</text>
<text x="113.80" y="141.06" font-family="Liberation Serif, serif" font-size="12.80" text-anchor="end" fill="#000" textLength="17.20" lengthAdjust="spacingAndGlyphs" stroke="#000" stroke-width="0.25" >0.4</text>
<text x="113.80" y="113.89" font-family="Liberation Serif, serif" font-size="12.80" text-anchor="end" fill="#000" textLength="17.20" lengthAdjust="spacingAndGlyphs" stroke="#000" stroke-width="0.25" >0.6</text>
<text x="113.80" y="86.72" font-family="Liberation Serif, serif" font-size="12.80" text-anchor="end" fill="#000" textLength="17.20" lengthAdjust="spacingAndGlyphs" stroke="#000" stroke-width="0.25" >0.8</text>
<text x="114.30" y="59.35" font-family="Liberation Serif, serif" font-size="12.80" text-anchor="end" fill="#000" textLength="6.60" lengthAdjust="spacingAndGlyphs" stroke="#000" stroke-width="0.25" >1</text>
<g transform="translate(89.6,116.58) rotate(-90)">
<text x="0.00" y="0.00" font-family="Liberation Serif, serif" font-size="12.40" text-anchor="middle" fill="#000" textLength="72.00" lengthAdjust="spacingAndGlyphs" stroke="#000" stroke-width="0.18" >Distribution</text>
</g>
<text x="151.00" y="274.25" font-family="Liberation Serif, serif" font-size="12.60" text-anchor="start" fill="#000" textLength="30.00" lengthAdjust="spacingAndGlyphs" stroke="#000" stroke-width="0.18" >Total</text>
<text x="151.00" y="289.15" font-family="Liberation Serif, serif" font-size="12.60" text-anchor="start" fill="#ff0000" textLength="32.80" lengthAdjust="spacingAndGlyphs" stroke="#ff0000" stroke-width="0.18" >Bulge</text>
<text x="151.00" y="304.15" font-family="Liberation Serif, serif" font-size="12.60" text-anchor="start" fill="#0000ff" textLength="24.80" lengthAdjust="spacingAndGlyphs" stroke="#0000ff" stroke-width="0.18" >Disk</text>
<text x="113.80" y="404.95" font-family="Liberation Serif, serif" font-size="12.80" text-anchor="end" fill="#000" textLength="6.60" lengthAdjust="spacingAndGlyphs" stroke="#000" stroke-width="0.25" >0</text>
<text x="113.80" y="377.78" font-family="Liberation Serif, serif" font-size="12.80" text-anchor="end" fill="#000" textLength="17.20" lengthAdjust="spacingAndGlyphs" stroke="#000" stroke-width="0.25" >0.2</text>
<text x="113.80" y="350.61" font-family="Liberation Serif, serif" font-size="12.80" text-anchor="end" fill="#000" textLength="17.20" lengthAdjust="spacingAndGlyphs" stroke="#000" stroke-width="0.25" >0.4</text>
<text x="113.80" y="323.44" font-family="Liberation Serif, serif" font-size="12.80" text-anchor="end" fill="#000" textLength="17.20" lengthAdjust="spacingAndGlyphs" stroke="#000" stroke-width="0.25" >0.6</text>
<text x="113.80" y="296.27" font-family="Liberation Serif, serif" font-size="12.80" text-anchor="end" fill="#000" textLength="17.20" lengthAdjust="spacingAndGlyphs" stroke="#000" stroke-width="0.25" >0.8</text>
<text x="114.30" y="268.90" font-family="Liberation Serif, serif" font-size="12.80" text-anchor="end" fill="#000" textLength="6.60" lengthAdjust="spacingAndGlyphs" stroke="#000" stroke-width="0.25" >1</text>
<g transform="translate(89.6,326.13) rotate(-90)">
<text x="0.00" y="0.00" font-family="Liberation Serif, serif" font-size="12.40" text-anchor="middle" fill="#000" textLength="72.00" lengthAdjust="spacingAndGlyphs" stroke="#000" stroke-width="0.18" >Distribution</text>
</g>
<text x="123.50" y="206.00" font-family="Liberation Serif, serif" font-size="12.80" text-anchor="middle" fill="#000" textLength="23.00" lengthAdjust="spacingAndGlyphs" stroke="#000" stroke-width="0.25" >0.01</text>
<text x="237.70" y="206.00" font-family="Liberation Serif, serif" font-size="12.80" text-anchor="middle" fill="#000" textLength="16.60" lengthAdjust="spacingAndGlyphs" stroke="#000" stroke-width="0.25" >0.1</text>
<text x="352.60" y="206.00" font-family="Liberation Serif, serif" font-size="12.80" text-anchor="middle" fill="#000" textLength="6.60" lengthAdjust="spacingAndGlyphs" stroke="#000" stroke-width="0.25" >1</text>
<text x="249.00" y="222.10" font-family="Liberation Serif, serif" font-size="12.00" text-anchor="start" fill="#000" font-style="italic" textLength="9.00" lengthAdjust="spacingAndGlyphs" stroke="#000" stroke-width="0.30" >M</text>
<path d="M268.60,212.80 H266.60 V223.90 H268.60" fill="none" stroke="#000" stroke-width="1.15"/>
<text x="269.00" y="222.10" font-family="Liberation Serif, serif" font-size="12.00" text-anchor="start" fill="#000" font-style="italic" textLength="9.00" lengthAdjust="spacingAndGlyphs" stroke="#000" stroke-width="0.30" >M</text>
<circle cx="282.0" cy="222.7" r="2.5" fill="none" stroke="#000" stroke-width="1.0"/>
<circle cx="282.0" cy="222.7" r="0.8" fill="#000"/>
<path d="M287.20,212.80 H289.20 V223.90 H287.20" fill="none" stroke="#000" stroke-width="1.15"/>
<text x="121.00" y="415.60" font-family="Liberation Serif, serif" font-size="12.80" text-anchor="middle" fill="#000" textLength="6.60" lengthAdjust="spacingAndGlyphs" stroke="#000" stroke-width="0.25" >0</text>
<text x="178.04" y="415.60" font-family="Liberation Serif, serif" font-size="12.80" text-anchor="middle" fill="#000" textLength="6.60" lengthAdjust="spacingAndGlyphs" stroke="#000" stroke-width="0.25" >2</text>
<text x="235.08" y="415.60" font-family="Liberation Serif, serif" font-size="12.80" text-anchor="middle" fill="#000" textLength="6.60" lengthAdjust="spacingAndGlyphs" stroke="#000" stroke-width="0.25" >4</text>
<text x="292.12" y="415.60" font-family="Liberation Serif, serif" font-size="12.80" text-anchor="middle" fill="#000" textLength="6.60" lengthAdjust="spacingAndGlyphs" stroke="#000" stroke-width="0.25" >6</text>
<text x="349.16" y="415.60" font-family="Liberation Serif, serif" font-size="12.80" text-anchor="middle" fill="#000" textLength="6.60" lengthAdjust="spacingAndGlyphs" stroke="#000" stroke-width="0.25" >8</text>
<text x="406.50" y="415.60" font-family="Liberation Serif, serif" font-size="12.80" text-anchor="middle" fill="#000" textLength="13.20" lengthAdjust="spacingAndGlyphs" stroke="#000" stroke-width="0.25" >10</text>
<text x="244.40" y="431.00" font-family="Liberation Serif, serif" font-size="12.00" text-anchor="start" fill="#000" font-style="italic" textLength="8.80" lengthAdjust="spacingAndGlyphs" stroke="#000" stroke-width="0.30" >D</text>
<path d="M254.2,429.4 h1.3 v4.9 h-1.3 z M253.4,429.3 h3.0 v0.9 h-3.0 z M253.4,433.5 h4.8 v1.0 h-4.8 z M257.3,432.1 h0.9 v2.4 h-0.9 z" fill="#000"/>
<path d="M266.30,421.60 H264.30 V432.80 H266.30" fill="none" stroke="#000" stroke-width="1.15"/>
<text x="267.40" y="431.00" font-family="Liberation Serif, serif" font-size="13.00" text-anchor="start" fill="#000" textLength="21.80" lengthAdjust="spacingAndGlyphs" stroke="#000" stroke-width="0.30" >kpc</text>
<path d="M291.50,421.60 H293.50 V432.80 H291.50" fill="none" stroke="#000" stroke-width="1.15"/>
</svg>
</body></html>
